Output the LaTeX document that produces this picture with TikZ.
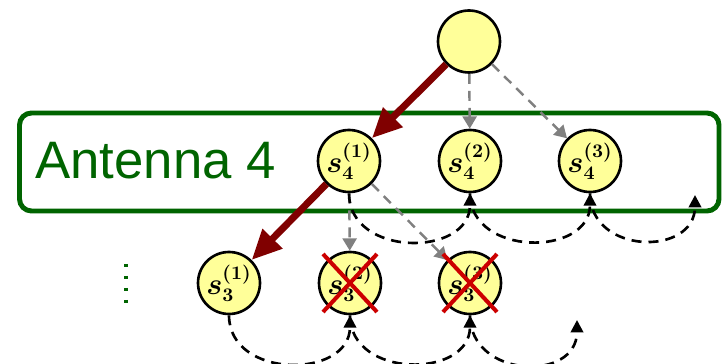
\documentclass[tikz,border=0pt]{standalone}
\usepackage{amsmath}
\usepackage{fontspec}
\usepackage{tikz}
\usetikzlibrary{arrows.meta}
\newfontfamily\antennafont{Liberation Sans}
\definecolor{symyellow}{RGB}{255,255,153}
\definecolor{antgreen}{RGB}{0,100,0}
\definecolor{bestred}{RGB}{128,0,0}
\definecolor{crossred}{RGB}{204,0,0}

\begin{document}
\begin{tikzpicture}[%
        x=0.02cm, y=-0.02cm,
        symbol/.style={ circle, minimum size=1.24cm, inner sep=0pt, line width=1.5pt, draw=black, fill=symyellow, font=\fontsize{16}{19}\selectfont\boldmath },%
        best/.style={ line width=4pt, draw=bestred, -{Triangle[length=17pt,width=15pt]} },%
        branch/.style={ line width=1.4pt, draw=gray, dash pattern=on 5.7pt off 4pt, -{Triangle[length=7pt,width=8pt]} },%
        survivor/.style={ line width=1.5pt, draw=black, dash pattern=on 5.7pt off 4pt, -{Triangle[length=7pt,width=7pt]} },%
        cross/.style={ line width=2.3pt, draw=crossred }%
      ]
      \useasboundingbox (0,0) rectangle (723,364);
      \draw [antgreen, line width=2.8pt, rounded corners=0.24cm] (19.5,113) rectangle (719,211);
      \node (antenna) at (35,179) [anchor=base west, inner sep=0pt, text=antgreen, font=\antennafont\fontsize{30}{36}\selectfont]{Antenna 4};
      \draw [antgreen, line width=1.8pt, dash pattern=on 1.8pt off 5pt] (126,264) -- (126,303);

      \node (root) at (469, 41.5) [symbol]{};
      \node (s4a)  at (349, 161) [symbol]{$s_4^{(1)}$};
      \node (s4b)  at (470, 161) [symbol]{$s_4^{(2)}$};
      \node (s4c)  at (590, 161) [symbol]{$s_4^{(3)}$};
      \node (s3a)  at (229, 283) [symbol]{$s_3^{(1)}$};
      \node (s3b)  at (350, 283) [symbol]{$s_3^{(2)}$};
      \node (s3c)  at (470, 283) [symbol]{$s_3^{(3)}$};
      \coordinate (end4) at (695, 195);
      \coordinate (end3) at (577, 320);

      \draw [branch] (root) -- (s4b);
      \draw [branch] (root) -- (s4c);
      \draw [branch] (s4a) -- (s3b);
      \draw [branch] (s4a) -- (s3c);
      \draw [best] (root) -- (s4a);
      \draw [best] (s4a) -- (s3a);

      \draw [survivor] (s4a) to[out=-90, in=-90, looseness=1.36] (s4b);
      \draw [survivor] (s4b) to[out=-90, in=-90, looseness=1.36] (s4c);
      \draw [survivor] (s4c.south) to[out=-90, in=-90, looseness=1.5] (end4);
      \draw [survivor] (s3a) to[out=-90, in=-90, looseness=1.36] (s3b);
      \draw [survivor] (s3b) to[out=-90, in=-90, looseness=1.36] (s3c);
      \draw [survivor] (s3c.south) to[out=-90, in=-90, looseness=1.5] (end3);

      \draw [cross] ([shift={(-27,-29)}]s3b.center) -- ([shift={(27,29)}]s3b.center);
      \draw [cross] ([shift={(-27,29)}]s3b.center) -- ([shift={(27,-29)}]s3b.center);
      \draw [cross] ([shift={(-27,-29)}]s3c.center) -- ([shift={(27,29)}]s3c.center);
      \draw [cross] ([shift={(-27,29)}]s3c.center) -- ([shift={(27,-29)}]s3c.center);
    \end{tikzpicture}
\end{document}
